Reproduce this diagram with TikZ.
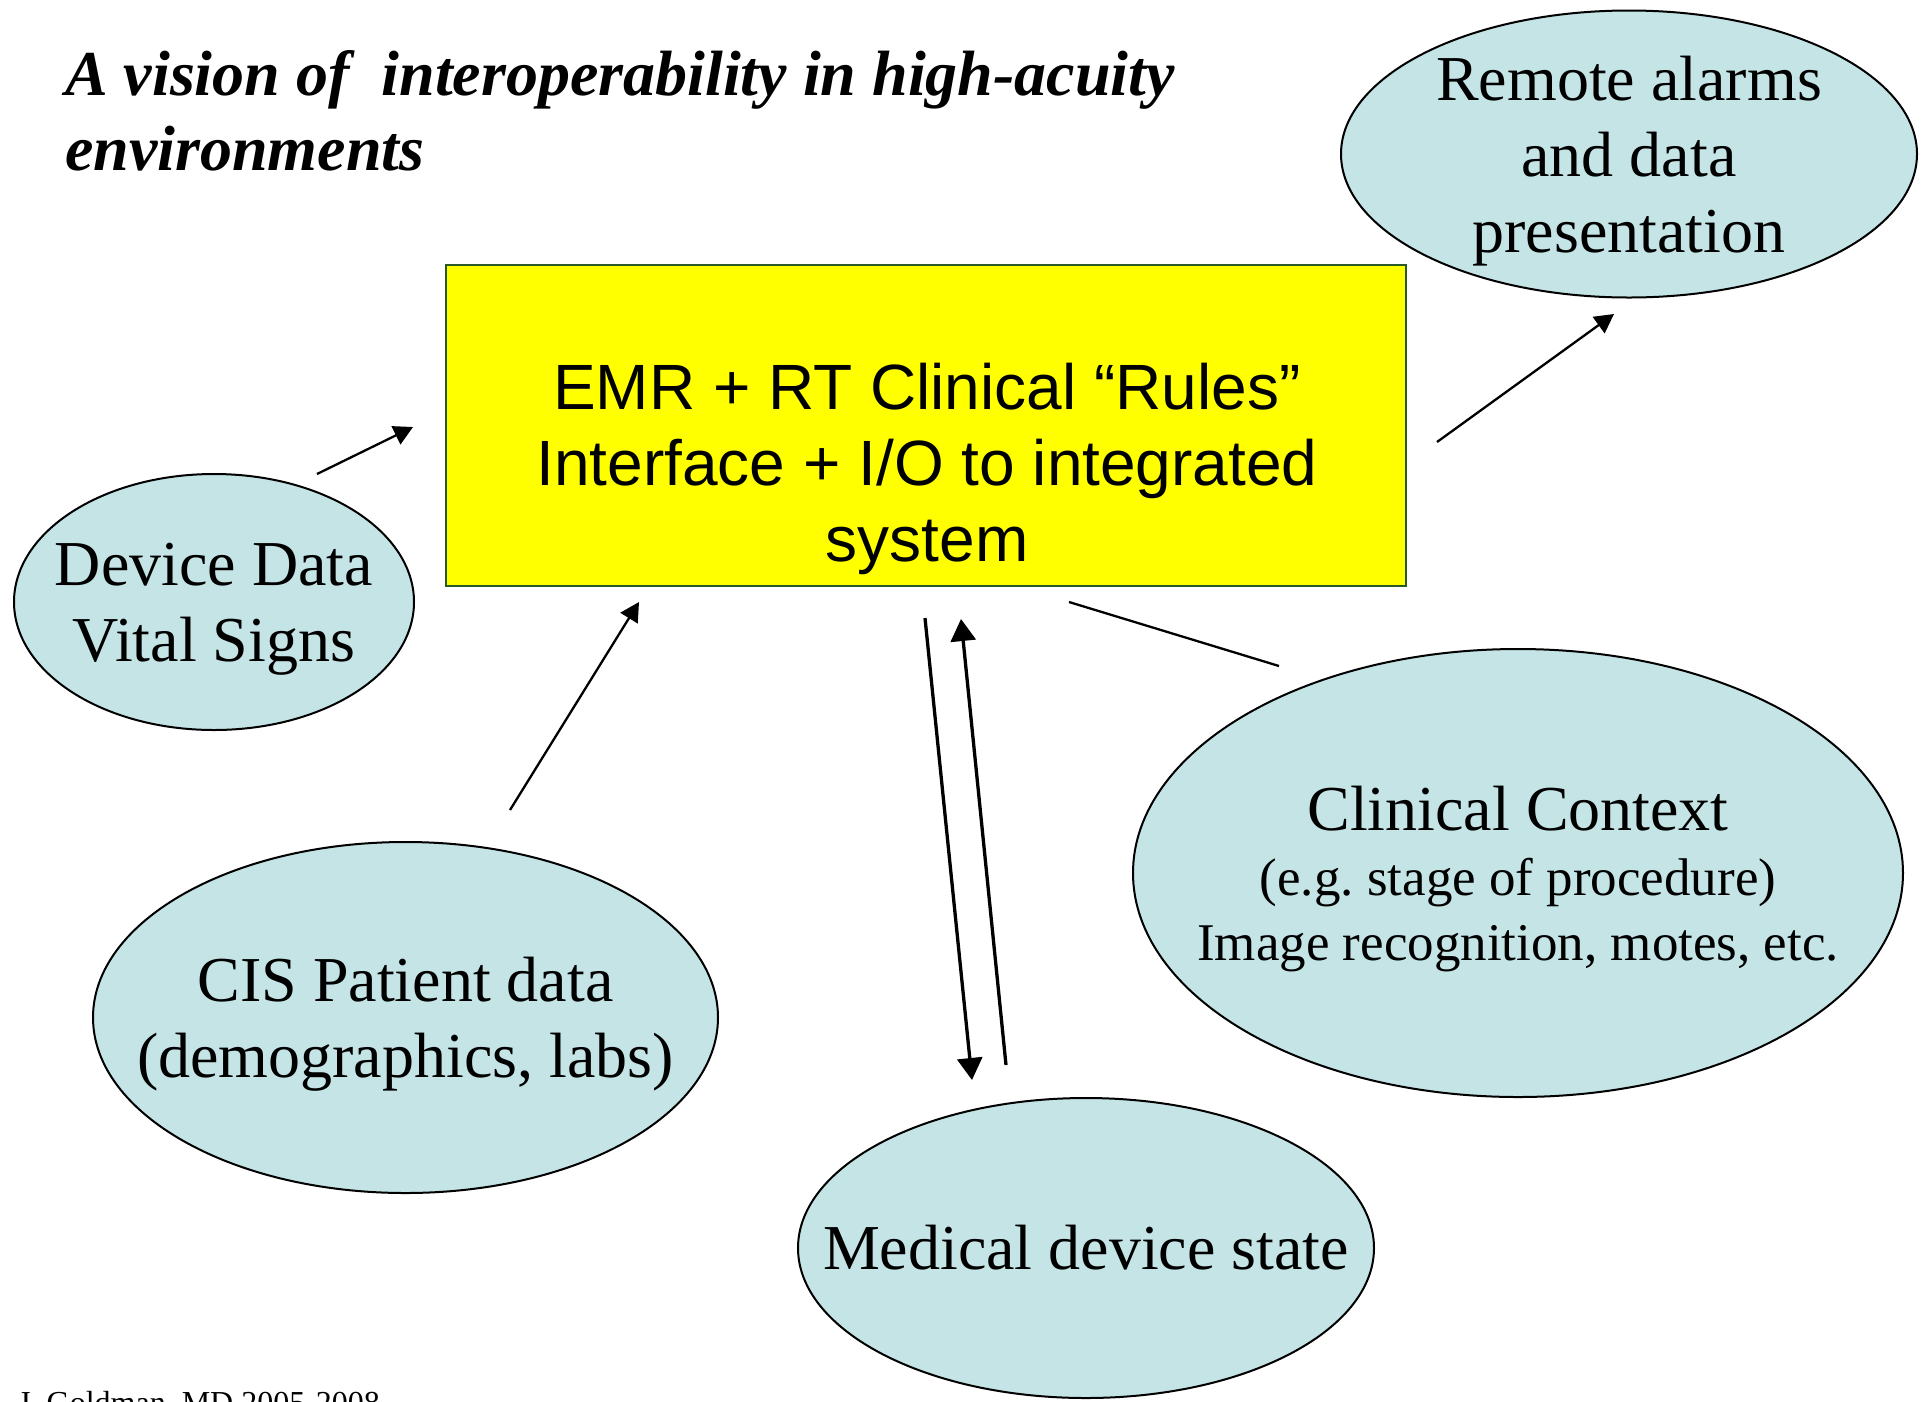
\documentclass[tikz,border=0pt]{standalone}
\usepackage{fontspec}
\setmainfont{Liberation Serif}
\newfontfamily\sansbox{Liberation Sans}
\usetikzlibrary{shapes.geometric,arrows.meta}
\definecolor{bubblefill}{RGB}{196,228,230}
\definecolor{boxfill}{RGB}{255,255,0}
\definecolor{boxedge}{RGB}{40,90,40}
\frenchspacing
\begin{document}
\begin{tikzpicture}[x=1pt,y=-1pt,
  bubble/.style={ellipse, draw=black, line width=2pt, fill=bubblefill, inner sep=0pt},
  bubbletext/.style={align=center, inner sep=0pt, font=\fontsize{64}{76}\selectfont},
  rulesbox/.style={rectangle, draw=boxedge, line width=2.2pt, fill=boxfill, inner sep=0pt},
  thinarrow/.style={line width=2.3pt, -{Triangle[length=19pt,width=20pt]}},
  thickarrow/.style={line width=3.3pt, -{Triangle[length=22pt,width=25pt]}},
  plainlink/.style={line width=2.3pt}]

% page
\clip (0,0) rectangle (1927,1401);
\fill[white] (0,0) rectangle (1927,1401);

% heading (anchored on the baseline of its last line)
\node[anchor=base west, align=left, inner sep=0pt,
      font=\bfseries\itshape\fontsize{64}{75}\selectfont] (title) at (65,170)
  {A vision of\ \ interoperability in high-acuity\\environments};

% central rules engine
\node[rulesbox, minimum width=960pt, minimum height=321pt] (rules) at (926,425.5) {};
\node[align=center, inner sep=0pt, font=\sansbox\fontsize{64}{76}\selectfont] (rulestext)
  at (927,462.5) {EMR + RT Clinical “Rules”\\Interface + I/O to integrated\\\smash{system}};

% data sources and sinks
\node[bubble, minimum width=576pt, minimum height=287pt] (remote) at (1629,154) {};
\node[bubbletext] (remotetext) at (remote.center) {Remote alarms\\and data\\\smash{presentation}};

\node[bubble, minimum width=400pt, minimum height=256pt] (device) at (214,602) {};
\node[bubbletext] (devicetext) at (device.center) {Device Data\\\smash{Vital Signs}};

\node[bubble, minimum width=625pt, minimum height=351pt] (cis) at (405.5,1017.5) {};
\node[bubbletext] (cistext) at (cis.center) {CIS Patient data\\\smash{(demographics, labs)}};

\node[bubble, minimum width=576pt, minimum height=300pt] (medical) at (1086,1248) {};
\node[bubbletext] (medicaltext) at (medical.center) {Medical device state};

\node[bubble, minimum width=770pt, minimum height=448pt] (context) at (1518,873) {};
\node[bubbletext, font=\fontsize{53}{65}\selectfont] (contexttext) at (context.center)
  {{\fontsize{64}{76}\selectfont Clinical Context}\\(e.g. stage of procedure)\\\smash{Image recognition, motes, etc.}};

% credit line, running off the lower edge
\node[anchor=base west, inner sep=0pt, font=\fontsize{32}{38}\selectfont] (credit) at (18,1413)
  {J. Goldman, MD 2005-2008};

% connector end points
\coordinate (deviceOut) at (317,474);
\coordinate (rulesInDevice) at (413,427);
\coordinate (rulesOut) at (1437,442);
\coordinate (remoteIn) at (1614,314);
\coordinate (cisOut) at (510,810);
\coordinate (rulesInCis) at (639,602);
\coordinate (rulesDown) at (925,618);
\coordinate (medicalIn) at (972,1080);
\coordinate (medicalOut) at (1006,1065);
\coordinate (rulesUp) at (961,619);
\coordinate (rulesSide) at (1069,602);
\coordinate (contextLink) at (1279,666);

% connectors
\draw[thinarrow] (deviceOut) -- (rulesInDevice);
\draw[thinarrow] (rulesOut) -- (remoteIn);
\draw[thinarrow] (cisOut) -- (rulesInCis);
\draw[thickarrow] (rulesDown) -- (medicalIn);
\draw[thickarrow] (medicalOut) -- (rulesUp);
\draw[plainlink] (rulesSide) -- (contextLink);
\end{tikzpicture}
\end{document}
